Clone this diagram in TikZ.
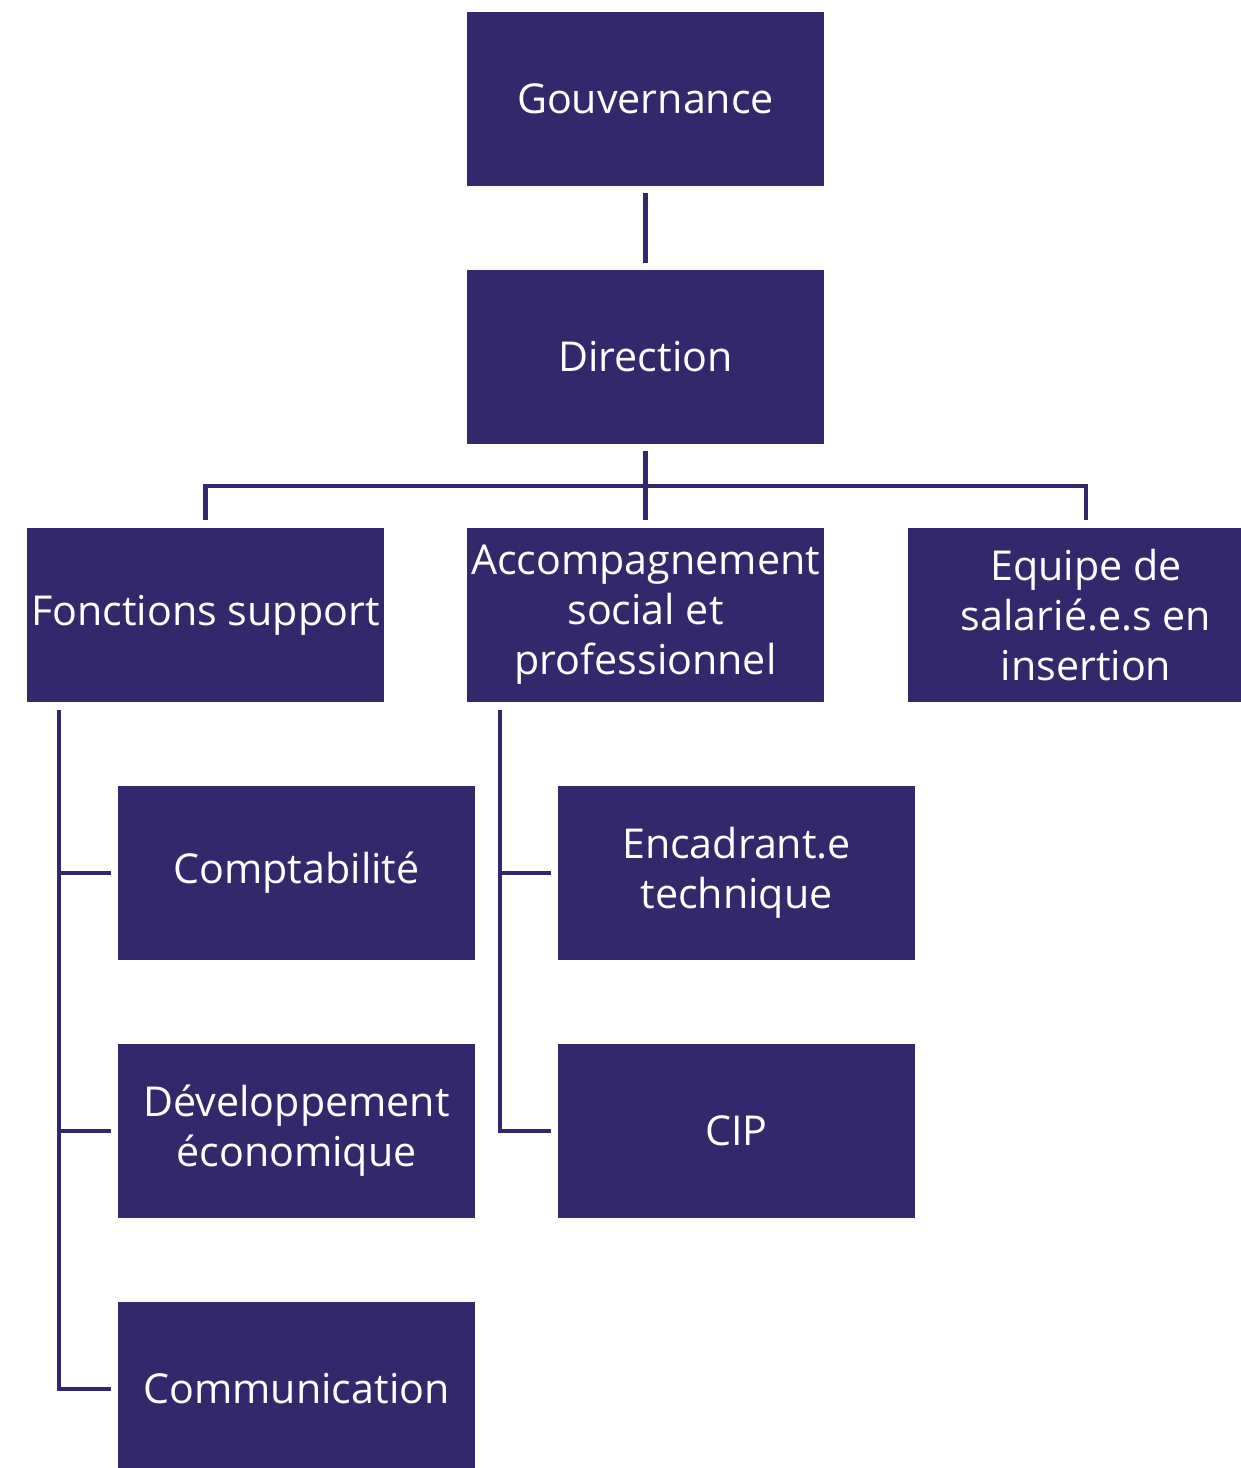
\documentclass[tikz,border=0pt]{standalone}
\usepackage{fontspec}
\setmainfont{Open Sans}
\definecolor{boxc}{HTML}{33286B}
\begin{document}
\begin{tikzpicture}[x=0.5pt,y=-0.5pt,
  box/.style={draw=none,fill=boxc,text=white,minimum width=178.5pt,minimum height=87pt,inner sep=0pt,align=center,font=\fontsize{20.6}{25}\selectfont},
  conn/.style={draw=boxc,line width=2.2pt}]
\useasboundingbox (0,0) rectangle (1241,1468);
\clip (0,0) rectangle (1241,1468);
\node[box] (gov) at (645.5,99) {Gouvernance};
\node[box] (dir) at (645.5,357) {Direction};
\node[box] (fon) at (205.5,615) {Fonctions support};
\node[box] (acc) at (645.5,615) {Accompagnement\\social et\\professionnel};
\node[box] (equ) at (1086,615) {Equipe de\\salarié.e.s en\\insertion};
\node[box] (cpt) at (296.5,873) {Comptabilité};
\node[box] (dev) at (296.5,1131) {Développement\\économique};
\node[box] (com) at (296.5,1389) {Communication};
\node[box] (enc) at (736.5,873) {Encadrant.e\\technique};
\node[box] (cip) at (736.5,1131) {CIP};
\coordinate (bus) at (645.5,486);
\coordinate (ltop) at (59,702);
\coordinate (lb1) at (59,873);
\coordinate (lb2) at (59,1131);
\coordinate (mtop) at (500,702);
\coordinate (mb1) at (500,873);
\draw[conn,shorten <=3.5pt,shorten >=3.5pt] (gov.south) -- (dir.south |- dir.north);
\draw[conn,shorten <=3.5pt,shorten >=4pt] (dir.south) -- (acc.north);
\draw[conn,shorten <=4pt,shorten >=4pt] (fon.north) |- (bus) -| (equ.north);
\draw[conn,shorten <=4pt,shorten >=3.5pt] (ltop) |- (com.west);
\draw[conn,shorten >=3.5pt] (lb1) -- (cpt.west);
\draw[conn,shorten >=3.5pt] (lb2) -- (dev.west);
\draw[conn,shorten <=4pt,shorten >=3.5pt] (mtop) |- (cip.west);
\draw[conn,shorten >=3.5pt] (mb1) -- (enc.west);
\end{tikzpicture}
\end{document}
